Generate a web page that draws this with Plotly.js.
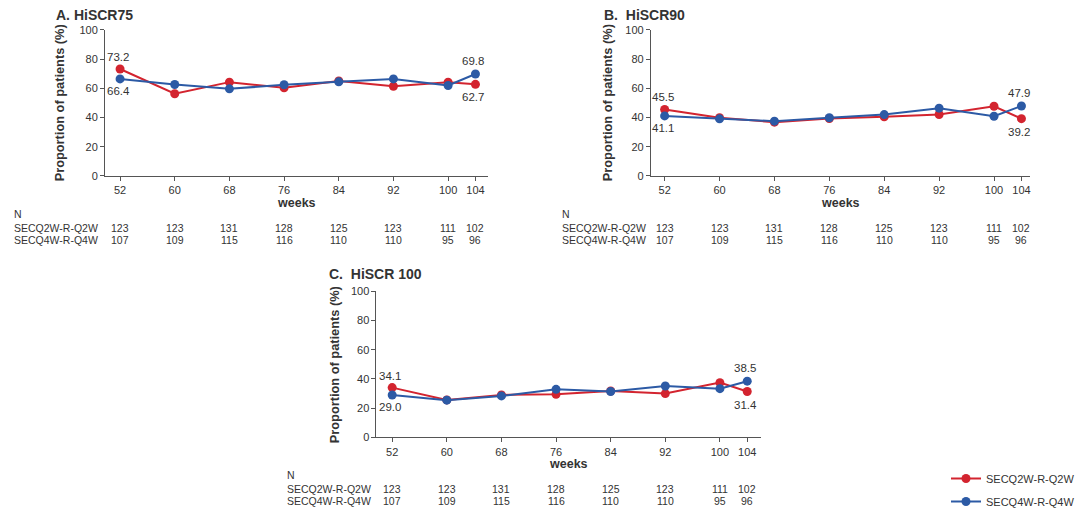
<!DOCTYPE html>
<html>
<head>
<meta charset="utf-8">
<script src="https://cdn.plot.ly/plotly-3.0.1.min.js"></script>
<style>
  html, body { margin: 0; padding: 0; background: #fff; }
  #plot { width: 1080px; height: 516px; }
</style>
</head>
<body>
<div id="plot"></div>
<script>
var weeks = [52, 60, 68, 76, 84, 92, 100, 104];
var week_ticks = ['52', '60', '68', '76', '84', '92', '100', '104'];

var hiscr75_q2w = [73.2, 56.3, 64.2, 60.3, 65.0, 61.4, 64.2, 62.7];
var hiscr75_q4w = [66.4, 62.6, 59.6, 62.4, 64.4, 66.4, 61.9, 69.8];
var hiscr90_q2w = [45.5, 39.8, 36.8, 39.3, 40.5, 42.1, 47.7, 39.2];
var hiscr90_q4w = [41.1, 39.1, 37.5, 39.8, 42.0, 46.4, 40.9, 47.9];
var hiscr100_q2w = [34.1, 25.7, 29.1, 29.5, 31.8, 30.0, 37.5, 31.4];
var hiscr100_q4w = [29.0, 25.5, 28.4, 32.9, 31.4, 35.2, 33.4, 38.5];

var n_q2w = [123, 123, 131, 128, 125, 123, 111, 102];
var n_q4w = [107, 109, 115, 116, 110, 110, 95, 96];

var name_q2w = 'SECQ2W-R-Q2W';
var name_q4w = 'SECQ4W-R-Q4W';
var panel_titles = ['A. HiSCR75', 'B.  HiSCR90', 'C.  HiSCR 100'];

var red = '#d3242f';
var blue = '#2c5aa5';
var font = 'Liberation Sans, Arial, sans-serif';
var W = 1080, H = 516;

// panel geometry in pixels: axis left/right, plot top/bottom
var panels = [
   {xl: 106, xr: 493, top: 30, bottom: 177, range: [49.8, 105.9], q2w: hiscr75_q2w, q4w: hiscr75_q4w,
    titleX: 54, titleY: 15, ytitleX: 60, tableX: 12},
   {xl: 657, xr: 1040, top: 30, bottom: 177, range: [50.0, 105.3], q2w: hiscr90_q2w, q4w: hiscr90_q4w,
    titleX: 608, titleY: 15, ytitleX: 614, tableX: 565},
   {xl: 380, xr: 768, top: 293, bottom: 440, range: [49.7, 106.0], q2w: hiscr100_q2w, q4w: hiscr100_q4w,
    titleX: 330, titleY: 276, ytitleX: 337, tableX: 288}
];

var traces = [];
var layout = {
   width: W, height: H,
   margin: {l: 0, r: 0, t: 0, b: 0},
   paper_bgcolor: '#fff', plot_bgcolor: '#fff',
   font: {family: font, size: 11, color: '#333'},
   showlegend: true,
   legend: {
      x: 955 / W, y: 1 - 467 / H, xanchor: 'left', yanchor: 'top',
      font: {family: font, size: 11, color: '#333'},
      traceorder: 'grouped', tracegroupgap: 4,
      bgcolor: 'rgba(0,0,0,0)'
   },
   annotations: []
};

function series(x, y, name, color, ax, show){
   return {
      x: x, y: y, name: name,
      xaxis: 'x' + ax, yaxis: 'y' + ax,
      mode: 'lines+markers',
      line: {color: color, width: 2},
      marker: {color: color, size: 9},
      legendgroup: name,
      showlegend: show,
      hoverinfo: 'x+y',
      cliponaxis: false
   };
}

function label(ax, x, y, yshift, xshift){
   return {
      xref: 'x' + ax, yref: 'y' + ax, x: x, y: y,
      text: y.toFixed(1), showarrow: false,
      xshift: xshift, yshift: yshift,
      font: {family: font, size: 11.5, color: '#333'}
   };
}

panels.forEach(function(p, i){
   var axk = i === 0 ? '' : String(i + 1);
   var q2w_on_top = p.q2w[0] > p.q4w[0];
   traces.push(series(weeks, p.q2w, name_q2w, red, axk, i === 0));
   traces.push(series(weeks, p.q4w, name_q4w, blue, axk, i === 0));

   layout['xaxis' + axk] = {
      domain: [p.xl / W, p.xr / W],
      range: p.range,
      anchor: 'y' + axk,
      tickvals: weeks, ticktext: week_ticks,
      ticks: 'outside', ticklen: 4, tickcolor: '#555',
      showline: true, linecolor: '#555', linewidth: 1,
      showgrid: false, zeroline: false,
      tickfont: {family: font, size: 11, color: '#333'},
      fixedrange: true
   };
   layout['yaxis' + axk] = {
      domain: [1 - p.bottom / H, 1 - p.top / H],
      range: [0, 100],
      anchor: 'x' + axk,
      tickvals: [0, 20, 40, 60, 80, 100],
      ticks: 'outside', ticklen: 4, tickcolor: '#555',
      showline: true, linecolor: '#555', linewidth: 1,
      showgrid: false, zeroline: false,
      tickfont: {family: font, size: 11, color: '#333'},
      fixedrange: true
   };

   var A = layout.annotations;
   // panel title
   A.push({xref: 'paper', yref: 'paper', x: p.titleX / W, y: 1 - p.titleY / H,
      xanchor: 'left', yanchor: 'middle', showarrow: false,
      text: '<b>' + panel_titles[i] + '</b>',
      font: {family: font, size: 14, color: '#333'}});
   // y axis title
   A.push({xref: 'paper', yref: 'paper', x: p.ytitleX / W, y: 1 - (p.top + p.bottom) / 2 / H,
      xanchor: 'center', yanchor: 'middle', showarrow: false, textangle: -90,
      text: '<b>Proportion of patients (%)</b>',
      font: {family: font, size: 12.8, color: '#333'}});
   // x axis title
   A.push({xref: 'paper', yref: 'paper', x: (p.xl + p.xr) / 2 / W, y: 1 - (p.bottom + 27) / H,
      xanchor: 'center', yanchor: 'middle', showarrow: false,
      text: '<b>weeks</b>',
      font: {family: font, size: 12.5, color: '#333'}});

   // endpoint labels
   var last = weeks.length - 1;
   A.push(label(axk, weeks[0], p.q2w[0], q2w_on_top ? 12 : -12, -2));
   A.push(label(axk, weeks[0], p.q4w[0], q2w_on_top ? -12 : 12, -2));
   var q2w_end_top = p.q2w[last] > p.q4w[last];
   A.push(label(axk, weeks[last], p.q2w[last], q2w_end_top ? 13 : -13, -2));
   A.push(label(axk, weeks[last], p.q4w[last], q2w_end_top ? -13 : 13, -2));

   // number-at-risk table
   var rowN = p.bottom + 38, row1 = p.bottom + 52, row2 = p.bottom + 64;
   var tf = {family: font, size: 10.5, color: '#333'};
   A.push({xref: 'paper', yref: 'paper', x: p.tableX / W, y: 1 - rowN / H,
      xanchor: 'left', yanchor: 'middle', showarrow: false, text: 'N', font: tf});
   A.push({xref: 'paper', yref: 'paper', x: p.tableX / W, y: 1 - row1 / H,
      xanchor: 'left', yanchor: 'middle', showarrow: false, text: name_q2w, font: tf});
   A.push({xref: 'paper', yref: 'paper', x: p.tableX / W, y: 1 - row2 / H,
      xanchor: 'left', yanchor: 'middle', showarrow: false, text: name_q4w, font: tf});
   weeks.forEach(function(w, j){
      A.push({xref: 'x' + axk, yref: 'paper', x: w, y: 1 - row1 / H,
         xanchor: 'center', yanchor: 'middle', showarrow: false, text: String(n_q2w[j]), font: tf});
      A.push({xref: 'x' + axk, yref: 'paper', x: w, y: 1 - row2 / H,
         xanchor: 'center', yanchor: 'middle', showarrow: false, text: String(n_q4w[j]), font: tf});
   });
});

Plotly.newPlot('plot', traces, layout, {displayModeBar: false, staticPlot: true});
</script>
</body>
</html>
